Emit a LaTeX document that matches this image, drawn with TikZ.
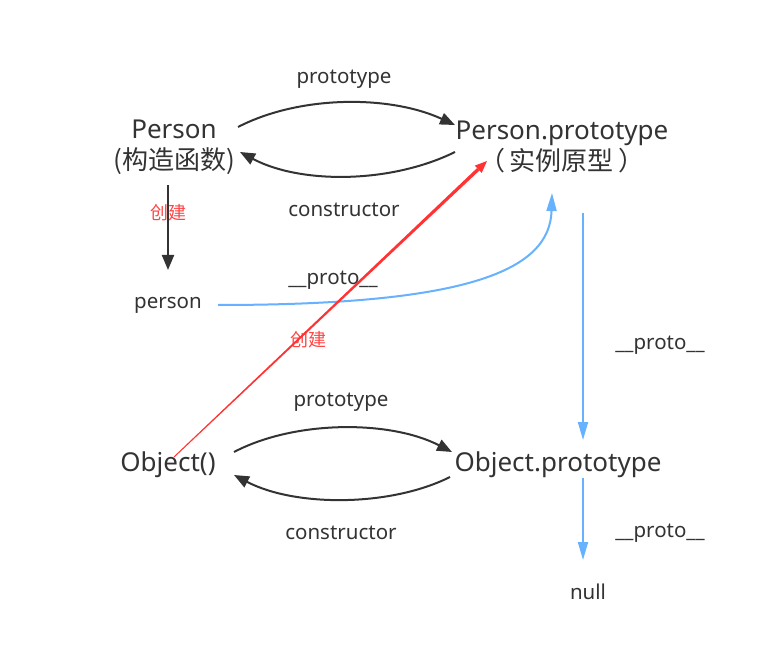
\documentclass[tikz,border=0pt]{standalone}
\usepackage{fontspec}
\setmainfont{Noto Sans}
\newfontfamily\cjk{Noto Sans CJK SC}
\usetikzlibrary{arrows.meta,calc}
\definecolor{dk}{HTML}{333333}
\definecolor{bl}{HTML}{66B2FF}
\definecolor{rd}{HTML}{FF3333}
\definecolor{rdt}{HTML}{FF4444}
\begin{document}
\begin{tikzpicture}[x=1pt,y=1pt,
  big/.style={inner sep=0pt,text=dk,font=\fontsize{26}{31}\selectfont,align=center},
  lbl/.style={inner sep=0pt,text=dk,font=\fontsize{20.5}{24}\selectfont},
  mk/.style={inner sep=0pt,text=rdt,font=\cjk\fontsize{18}{22}\selectfont},
  darr/.style={draw=dk,line width=2pt,-{Triangle[length=15pt,width=12pt]}},
  barr/.style={draw=bl,line width=2pt,-{Triangle[length=18pt,width=10pt]}}]
\useasboundingbox (0,0) rectangle (783,654);
\fill[white] (0,0) rectangle (783,654);
% nodes
\node[big] (P) at (174,507) {Person\\{\cjk(构造函数)}};
\node[big] (PP) at (562,507) {Person.prototype\\{\cjk（\,实例原型\,）}};
\node[lbl] (person) at (168,349) {person};
\node[big] (O) at (168,189) {Object()};
\node[big] (OP) at (558,189) {Object.prototype};
\node[lbl] (null) at (588,62) {null};
% labels
\node[lbl] (l1) at (344,575) {prototype};
\node[lbl] (l2) at (344,444) {constructor};
\node[lbl] (l3) at (341,252) {prototype};
\node[lbl] (l4) at (341,121) {constructor};
\node[lbl] (l5) at (333,374) {\_\_proto\_\_};
\node[lbl] (l6) at (660,309) {\_\_proto\_\_};
\node[lbl] (l7) at (660,121) {\_\_proto\_\_};
\node[mk] (c1) at (168,441) {创建};
\node[mk] (c2) at (308,314) {创建};
% black arrows
\draw[darr] ([shift={(64,20)}]P.center) .. controls (300,559) and (390,559) .. ([shift={(-107,22)}]PP.center);
\draw[darr] ([shift={(-107,-5)}]PP.center) .. controls (390,470) and (300,470) .. ([shift={(66,-5)}]P.center);
\draw[darr] ([shift={(66,13)}]O.center) .. controls (295,234) and (390,234) .. ([shift={(-106,13)}]OP.center);
\draw[darr] ([shift={(-108,-12)}]OP.center) .. controls (390,147) and (295,147) .. ([shift={(66,-10)}]O.center);
\draw[darr] ([shift={(-6,-38)}]P.center) -- ([shift={(0,35)}]person.center);
% blue arrows
\draw[barr] ([shift={(50,0)}]person.center) .. controls (470,349) and (550,384) .. ([shift={(-10,-46)}]PP.center);
\draw[barr] ([shift={(21,-66)}]PP.center) -- ([shift={(25,25)}]OP.center);
\draw[barr] ([shift={(25,-13)}]OP.center) -- ([shift={(-5,32)}]null.center);
% red tapered arrow
\coordinate (r0) at ([shift={(6,8)}]O.center);
\coordinate (rt) at ([shift={(-75,-14)}]PP.center);
\coordinate (re) at ($(rt)!12pt!(r0)$);
\fill[rd] ($(r0)!0.5pt!90:(rt)$) -- ($(r0)!0.5pt!-90:(rt)$) -- ($(re)!1.7pt!90:(r0)$) -- ($(re)!1.7pt!-90:(r0)$) -- cycle;
\fill[rd] (rt) -- ($(re)!5pt!90:(r0)$) -- ($(re)!5pt!-90:(r0)$) -- cycle;
\end{tikzpicture}
\end{document}
